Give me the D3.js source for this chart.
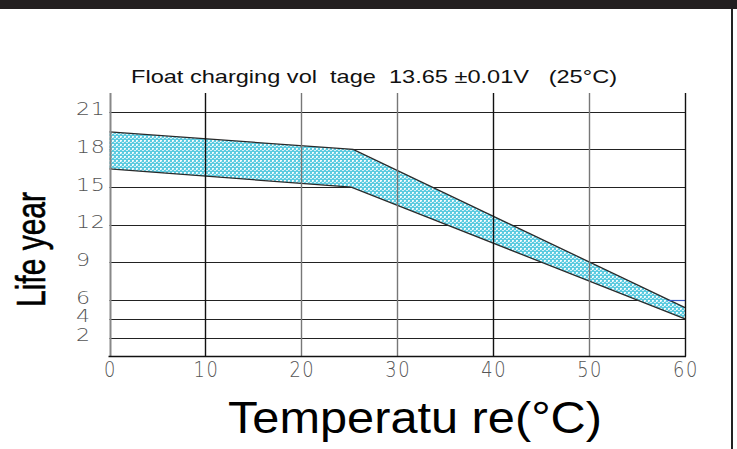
<!DOCTYPE html>
<html><head><meta charset="utf-8">
<script src="https://cdn.jsdelivr.net/npm/d3@7"></script>
<style>
html,body{margin:0;padding:0;background:#fff;}
svg{display:block;}
text{white-space:pre;}
</style></head>
<body>
<script>
// ---- data ----
const xTicks = [0, 10, 20, 30, 40, 50, 60];
const yTicks = [2, 4, 6, 9, 12, 15, 18, 21];
const yTickSlots = [0.5, 1, 1.5, 2.5, 3.5, 4.5, 5.5, 6.5]; // axis is not linear: 0-6 in half steps
const upperTemp = [0, 25.4, 60];
const upperLife = [19.4, 18, 5.2];
const lowerTemp = [0, 25.2, 60];
const lowerLife = [16.45, 15, 4.0];
const titleText = "Float charging vol  tage  13.65 \u00b10.01V   (25\u00b0C)";
const xLabel = "Temperatu re(\u00b0C)";
const yLabel = "Life year";

const W = 737, H = 449;
const svg = d3.select("body").append("svg").attr("width", W).attr("height", H);

const plot = {left: 109.5, right: 685, top: 93, bottom: 356.5};
const x = d3.scaleLinear().domain([0, 60]).range([plot.left, plot.right]);
const slot = d3.scaleLinear().domain([0, 7]).range([plot.bottom, plot.top]);
const yPiece = d3.scaleLinear().domain([0].concat(yTicks, [22.5])).range([0].concat(yTickSlots, [7]));
const y = v => slot(yPiece(v));

// pattern
const defs = svg.append("defs");
const pat = defs.append("pattern").attr("id", "hatch").attr("patternUnits", "userSpaceOnUse")
  .attr("width", 4).attr("height", 4);
pat.append("rect").attr("width", 4).attr("height", 4).attr("fill", "#5ccbe0");
pat.append("rect").attr("x", 0).attr("y", 0).attr("width", 2).attr("height", 2).attr("fill", "#f2fbfd");
pat.append("rect").attr("x", 2).attr("y", 2).attr("width", 2).attr("height", 1).attr("fill", "#d4f1f7");
pat.append("rect").attr("x", 1).attr("y", 1).attr("width", 1).attr("height", 1).attr("fill", "#a9e4ef");

// top bar & right frame
svg.append("rect").attr("x", 0).attr("y", 0).attr("width", W).attr("height", 9).attr("fill", "#231f20");
svg.append("line").attr("x1", 732).attr("x2", 732).attr("y1", 9).attr("y2", H)
  .attr("stroke", "#222").attr("stroke-width", 2);

// horizontal gridlines
svg.append("g").selectAll("line").data(yTicks).join("line")
  .attr("x1", plot.left).attr("x2", plot.right)
  .attr("y1", d => Math.round(y(d)) + 0.5).attr("y2", d => Math.round(y(d)) + 0.5)
  .attr("stroke", "#222").attr("stroke-width", 1);

// band
const upper = upperTemp.map((t, i) => [t, upperLife[i]]);
const lower = lowerTemp.map((t, i) => [t, lowerLife[i]]);
const poly = upper.concat(lower.slice().reverse());
const line = d3.line().x(d => x(d[0])).y(d => y(d[1]));
svg.append("path").attr("d", line(poly) + "Z").attr("fill", "url(#hatch)").attr("stroke", "none");
svg.append("path").attr("d", line(upper)).attr("fill", "none").attr("stroke", "#2a2a2a").attr("stroke-width", 1.3);
svg.append("path").attr("d", line(lower)).attr("fill", "none").attr("stroke", "#2a2a2a").attr("stroke-width", 1.3);

// small blue segment on the 6 gridline near the right edge
svg.append("line").attr("x1", x(58.2)).attr("x2", x(60))
  .attr("y1", Math.round(y(6)) + 0.5).attr("y2", Math.round(y(6)) + 0.5)
  .attr("stroke", "#3a55c0").attr("stroke-width", 1.2);

// vertical gridlines
const vColor = {0: "#888", 10: "#111", 20: "#777", 30: "#777", 40: "#111", 50: "#777", 60: "#111"};
svg.append("g").selectAll("line").data(xTicks).join("line")
  .attr("x1", d => Math.round(x(d)) + 0.5).attr("x2", d => Math.round(x(d)) + 0.5)
  .attr("y1", plot.top).attr("y2", plot.bottom)
  .attr("stroke", d => vColor[d]).attr("stroke-width", d => (d === 0 ? 2 : 1.4));

// bottom axis line
svg.append("line").attr("x1", plot.left - 1).attr("x2", plot.right + 1)
  .attr("y1", plot.bottom).attr("y2", plot.bottom).attr("stroke", "#111").attr("stroke-width", 1.5);

// tick labels
const tickFont = "'DejaVu Sans', sans-serif";
svg.append("g").selectAll("text").data(xTicks).join("text")
  .attr("transform", d => `translate(${x(d) + 1},377) scale(1.05,1.25)`)
  .attr("text-anchor", "middle")
  .attr("font-family", tickFont).attr("font-size", 17).attr("font-weight", 200)
  .attr("letter-spacing", 1.5)
  .attr("fill", "#555").text(d => d);

svg.append("g").selectAll("text").data(yTicks).join("text")
  .attr("transform", d => `translate(76,${y(d) + 3.5}) scale(1.3,1)`)
  .attr("text-anchor", "start")
  .attr("font-family", tickFont).attr("font-size", 17).attr("font-weight", 200)
  .attr("letter-spacing", 0.5)
  .attr("fill", "#555").text(d => d);

// title
svg.append("text").attr("x", 131).attr("y", 83)
  .attr("font-family", "'Liberation Sans', Arial, sans-serif").attr("font-size", 19)
  .attr("textLength", 486).attr("lengthAdjust", "spacingAndGlyphs")
  .attr("fill", "#111").text(titleText);

// x axis label
svg.append("text").attr("x", 228).attr("y", 433)
  .attr("font-family", "'Liberation Sans', Arial, sans-serif").attr("font-size", 45)
  .attr("textLength", 374).attr("lengthAdjust", "spacingAndGlyphs")
  .attr("fill", "#000").text(xLabel);

// y axis label
svg.append("text").attr("transform", "translate(45,307) rotate(-90)")
  .attr("font-family", "'Liberation Sans', Arial, sans-serif").attr("font-size", 41)
  .attr("textLength", 115).attr("lengthAdjust", "spacingAndGlyphs")
  .attr("stroke", "#000").attr("stroke-width", 0.6)
  .attr("fill", "#000").text(yLabel);
</script>
</body></html>
